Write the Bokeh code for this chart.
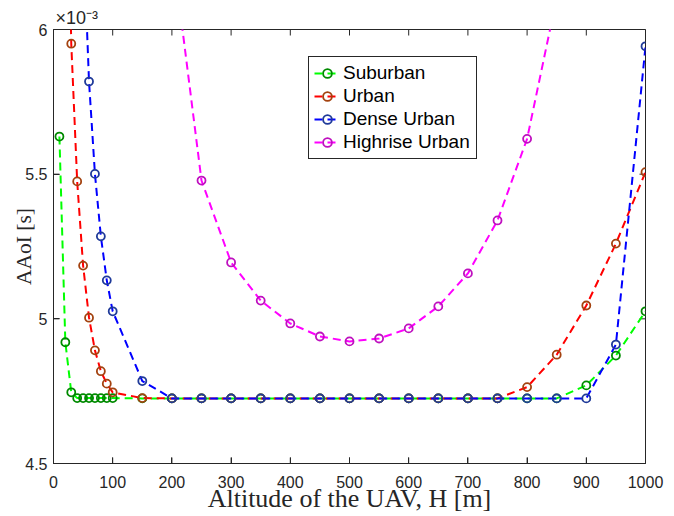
import numpy as np
from bokeh.plotting import figure
from bokeh.models import (Range1d, FixedTicker, NumeralTickFormatter,
                          Legend, LegendItem)
from bokeh.embed import file_html
from bokeh.resources import INLINE

nan = np.nan

# Altitude H [m]
altitude = np.array([10, 20, 30, 40, 50, 60, 70, 80, 90, 100,
                     150, 200, 250, 300, 350, 400, 450, 500, 550, 600,
                     650, 700, 750, 800, 850, 900, 950, 1000], dtype=float)

# AAoI values in units of 1e-3 s (values above 6 are outside the visible axes)
suburban = np.array([5.630, 4.919, 4.746, 4.726, 4.726, 4.726, 4.726, 4.726, 4.726, 4.726,
                     4.725, 4.725, 4.725, 4.725, 4.725, 4.725, 4.725, 4.725, 4.725, 4.725,
                     4.725, 4.725, 4.725, 4.725, 4.725, 4.770, 4.873, 5.026])
urban = np.array([nan, 7.000, 5.951, 5.475, 5.184, 5.004, 4.891, 4.819, 4.776, 4.746,
                  4.726, 4.725, 4.725, 4.725, 4.725, 4.725, 4.725, 4.725, 4.725, 4.725,
                  4.725, 4.725, 4.725, 4.764, 4.876, 5.046, 5.260, 5.507])
dense_urban = np.array([nan, nan, nan, nan, 6.350, 5.820, 5.501, 5.285, 5.133, 5.026,
                        4.785, 4.725, 4.725, 4.725, 4.725, 4.725, 4.725, 4.725, 4.725, 4.725,
                        4.725, 4.725, 4.725, 4.725, 4.725, 4.725, 4.911, 5.942])
highrise_urban = np.array([nan, nan, nan, nan, nan, nan, nan, nan, nan, nan,
                           nan, 6.290, 5.478, 5.195, 5.063, 4.984, 4.939, 4.922, 4.932, 4.967,
                           5.043, 5.157, 5.340, 5.622, 6.110, nan, nan, nan])

series_names = ["Suburban", "Urban", "Dense Urban", "Highrise Urban"]
series_values = [suburban, urban, dense_urban, highrise_urban]
line_colors = ["#00FF00", "#FF0000", "#0000FF", "#FF00FF"]
marker_colors = ["#008A00", "#A3420F", "#1F3A99", "#BF10BF"]

x_ticks = [0, 100, 200, 300, 400, 500, 600, 700, 800, 900, 1000]
y_ticks = [4.5, 5, 5.5, 6]
y_multiplier = "×10⁻³"

AX = "#262626"

p = figure(width=666, height=516, output_backend="svg", toolbar_location=None,
           x_range=Range1d(0, 1000), y_range=Range1d(4.5, 6),
           min_border_left=53, min_border_right=21, min_border_top=29, min_border_bottom=53,
           x_axis_label="Altitude of the UAV, H [m]", y_axis_label="AAoI [s]")
p.grid.visible = False
p.outline_line_color = AX
p.outline_line_width = 1
p.outline_line_alpha = 1
p.background_fill_color = "white"
p.border_fill_color = "white"

# multiplier text above the y axis
p.title.text = y_multiplier
p.title.align = "left"
p.title.offset = 2
p.title.standoff = 3
p.title.text_font = "Liberation Sans"
p.title.text_font_size = "18px"
p.title.text_font_style = "normal"
p.title.text_color = AX

for ax, ticks in ((p.xaxis[0], x_ticks), (p.yaxis[0], y_ticks)):
    ax.ticker = FixedTicker(ticks=ticks)
    ax.axis_line_color = AX
    ax.major_tick_line_color = AX
    ax.major_tick_in = 6
    ax.major_tick_out = 0
    ax.minor_tick_line_color = None
    ax.major_label_text_font = "Liberation Sans"
    ax.major_label_text_font_size = "16px"
    ax.major_label_text_color = AX
    ax.axis_label_text_font = "Liberation Serif"
    ax.axis_label_text_font_style = "normal"
    ax.axis_label_text_color = AX

p.yaxis[0].formatter = NumeralTickFormatter(format="0.[0]")
p.yaxis[0].major_label_standoff = 6
p.yaxis[0].axis_label_standoff = -14
p.yaxis[0].axis_label_text_font_size = "21.5px"
p.xaxis[0].major_label_standoff = 12
p.xaxis[0].axis_label_standoff = -7
p.xaxis[0].axis_label_text_font_size = "26px"

# inward tick marks on all four sides of the box (clipped to the frame)
tick_style = dict(marker="dash", size=12, line_color=AX, line_width=1)
p.scatter(x_ticks, [y_ticks[-1]] * len(x_ticks), angle=np.pi / 2, **tick_style)
p.scatter(x_ticks, [y_ticks[0]] * len(x_ticks), angle=np.pi / 2, **tick_style)
p.scatter([x_ticks[0]] * len(y_ticks), y_ticks, **tick_style)
p.scatter([x_ticks[-1]] * len(y_ticks), y_ticks, **tick_style)

items = []
for name, vals, lc, mc in zip(series_names, series_values, line_colors, marker_colors):
    lr = p.line(altitude, vals, line_color=lc, line_width=2, line_dash="8 5")
    sr = p.scatter(altitude, vals, marker="circle", size=8, fill_color=None,
                   line_color=mc, line_width=1.8)
    items.append(LegendItem(label=name, renderers=[lr, sr]))

legend = Legend(items=items, location=(255, 304), label_text_font="Liberation Sans",
                label_text_font_size="19px", label_text_color="black",
                border_line_color=AX, border_line_width=1, border_line_alpha=1,
                background_fill_color="white", background_fill_alpha=1,
                glyph_width=26, glyph_height=22, label_height=22, label_width=128,
                label_standoff=3, spacing=1, padding=5, margin=0)
p.add_layout(legend)

open("out.html", "w").write(file_html(p, INLINE))
